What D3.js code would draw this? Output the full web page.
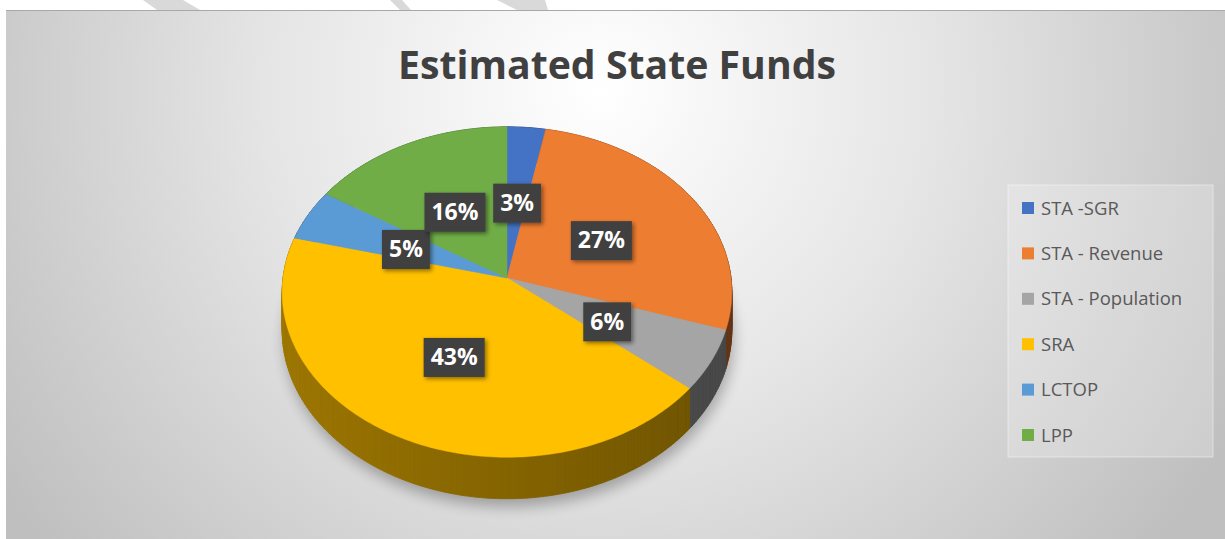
<!DOCTYPE html>
<html>
<head>
<meta charset="utf-8">
<script src="https://cdn.jsdelivr.net/npm/d3@7"></script>
<style>
  body { margin: 0; background: #fff; }
  text { font-family: "Open Sans", "Noto Sans", sans-serif; }
</style>
</head>
<body>
<script>
// chart data
var title = "Estimated State Funds";
var labels = ["STA -SGR", "STA - Revenue", "STA - Population", "SRA", "LCTOP", "LPP"];
var values = [3, 27, 6, 43, 5, 16];
var colors = ["#4472C4", "#ED7D31", "#A5A5A5", "#FFC000", "#5B9BD5", "#70AD47"];

var width = 1225,
    height = 539;

// 3d pie geometry
var cx = 507, cy = 278, rx = 224, ry = 164, persp = 0.085, depth = 38;

function project(a, f) {
    var u = Math.sin(a) * f,
        v = -Math.cos(a) * f,
        s = 1 / (1 - persp * v);
    return [cx + rx * u * s, cy + ry * v * s, s];
}
function bottom(a) {
    var p = project(a, 1);
    return [p[0], p[1] + depth * p[2]];
}

var svg = d3.select("body").append("svg")
    .attr("width", width)
    .attr("height", height);

var defs = svg.append("defs");

var bg = defs.append("radialGradient")
    .attr("id", "bg")
    .attr("gradientUnits", "userSpaceOnUse")
    .attr("cx", 600).attr("cy", 90).attr("r", 720);
bg.append("stop").attr("offset", 0).attr("stop-color", "#ffffff");
bg.append("stop").attr("offset", 0.45).attr("stop-color", "#e6e6e6");
bg.append("stop").attr("offset", 1).attr("stop-color", "#bfbfbf");

defs.append("filter").attr("id", "blur")
    .attr("x", "-20%").attr("y", "-20%").attr("width", "140%").attr("height", "140%")
    .append("feGaussianBlur").attr("stdDeviation", 7);

var ds = defs.append("filter").attr("id", "boxshadow")
    .attr("x", "-30%").attr("y", "-30%").attr("width", "160%").attr("height", "160%");
ds.append("feDropShadow")
    .attr("dx", 2).attr("dy", 2).attr("stdDeviation", 2)
    .attr("flood-color", "#000").attr("flood-opacity", 0.45);

// chart area
svg.append("rect")
    .attr("x", 6).attr("y", 10)
    .attr("width", width - 6).attr("height", height - 10)
    .attr("fill", "url(#bg)");
svg.append("line")
    .attr("x1", 6).attr("x2", width).attr("y1", 10.5).attr("y2", 10.5)
    .attr("stroke", "#a8a8a8").attr("stroke-width", 1.2);

// faint diagonal marks above the frame
var marks = [[[143, 0], [183, 0], [200, 10], [157, 10]],
             [[390, 0], [402, 0], [411, 10], [400, 10]],
             [[497, 0], [545, 0], [548, 10], [517, 10]]];
svg.selectAll(".mark").data(marks).enter().append("polygon")
    .attr("class", "mark")
    .attr("points", function(d) { return d.join(" "); })
    .attr("fill", "#d9d9d9");

// title
svg.append("text")
    .attr("x", 617).attr("y", 79)
    .attr("text-anchor", "middle")
    .attr("font-size", 40)
    .attr("font-weight", 700)
    .attr("fill", "#404040")
    .attr("textLength", 438)
    .attr("lengthAdjust", "spacingAndGlyphs")
    .text(title);

var pie = d3.pie().sort(null).value(function(d) { return d; });
var arcs = pie(values);

var line = d3.line();

// soft shadow under the pie
var shadowPts = d3.range(0, 361, 3).map(function(deg) {
    var b = bottom(deg * Math.PI / 180);
    return [b[0] + 2, b[1] + 8];
});
svg.append("path")
    .attr("d", line(shadowPts) + "Z")
    .attr("fill", "#000")
    .attr("opacity", 0.28)
    .attr("filter", "url(#blur)");

// side wall, small strips sorted back to front
var strips = [];
arcs.forEach(function(d, i) {
    var n = Math.max(2, Math.ceil((d.endAngle - d.startAngle) / (Math.PI / 180)));
    var step = (d.endAngle - d.startAngle) / n;
    for (var k = 0; k < n; k++) {
        var a0 = d.startAngle + k * step,
            a1 = a0 + step,
            am = (a0 + a1) / 2;
        strips.push({
            i: i,
            v: -Math.cos(am),
            u: Math.sin(am),
            pts: [project(a0, 1).slice(0, 2), project(a1, 1).slice(0, 2), bottom(a1), bottom(a0)]
        });
    }
});
strips.sort(function(a, b) { return a.v - b.v; });

function shade(c, u) {
    var f = 0.62 - 0.2 * (u + 1) / 2;
    var col = d3.rgb(c);
    return d3.rgb(col.r * f, col.g * f, col.b * f).formatHex();
}

svg.append("g").selectAll("path")
    .data(strips)
    .enter().append("path")
    .attr("d", function(d) { return line(d.pts) + "Z"; })
    .attr("fill", function(d) { return shade(colors[d.i], d.u); })
    .attr("stroke", function(d) { return shade(colors[d.i], d.u); })
    .attr("stroke-width", 0.8);

// top face
svg.append("g").selectAll("path")
    .data(arcs)
    .enter().append("path")
    .attr("d", function(d) {
        var n = Math.max(2, Math.ceil((d.endAngle - d.startAngle) / (Math.PI / 180)));
        var pts = [[cx, cy]];
        for (var k = 0; k <= n; k++) {
            var a = d.startAngle + (d.endAngle - d.startAngle) * k / n;
            pts.push(project(a, 1).slice(0, 2));
        }
        return line(pts) + "Z";
    })
    .attr("fill", function(d, i) { return colors[i]; })
    .attr("stroke", function(d, i) { return colors[i]; })
    .attr("stroke-width", 0.5);

// data labels
var total = d3.sum(values);
var lab = svg.append("g").selectAll("g")
    .data(arcs)
    .enter().append("g")
    .attr("transform", function(d) {
        var p = project((d.startAngle + d.endAngle) / 2, 0.5);
        return "translate(" + p[0] + "," + (p[1] + 3) + ")";
    });
lab.append("text")
    .attr("text-anchor", "middle")
    .attr("dy", "0.36em")
    .attr("font-size", 23)
    .attr("font-weight", 700)
    .attr("fill", "#fff")
    .text(function(d) { return Math.round(d.value / total * 100) + "%"; });
lab.each(function() {
    var g = d3.select(this);
    var w = g.select("text").node().getComputedTextLength() + 14;
    g.insert("rect", "text")
        .attr("x", -w / 2).attr("y", -19)
        .attr("width", w).attr("height", 39)
        .attr("fill", "#404040")
        .attr("filter", "url(#boxshadow)");
});

// legend
svg.append("rect")
    .attr("x", 1008).attr("y", 185)
    .attr("width", 205).attr("height", 272)
    .attr("fill", "#ffffff").attr("fill-opacity", 0.22)
    .attr("stroke", "#ffffff").attr("stroke-opacity", 0.45);

var legendY = d3.scalePoint().domain(labels).range([208, 435]);
var leg = svg.append("g").selectAll("g")
    .data(labels)
    .enter().append("g")
    .attr("transform", function(d) { return "translate(1022," + legendY(d) + ")"; });
leg.append("rect")
    .attr("x", 0).attr("y", -6)
    .attr("width", 12).attr("height", 12)
    .attr("fill", function(d, i) { return colors[i]; });
leg.append("text")
    .attr("x", 19)
    .attr("dy", "0.36em")
    .attr("font-size", 18.5)
    .attr("fill", "#595959")
    .text(function(d) { return d; });
</script>
</body>
</html>
